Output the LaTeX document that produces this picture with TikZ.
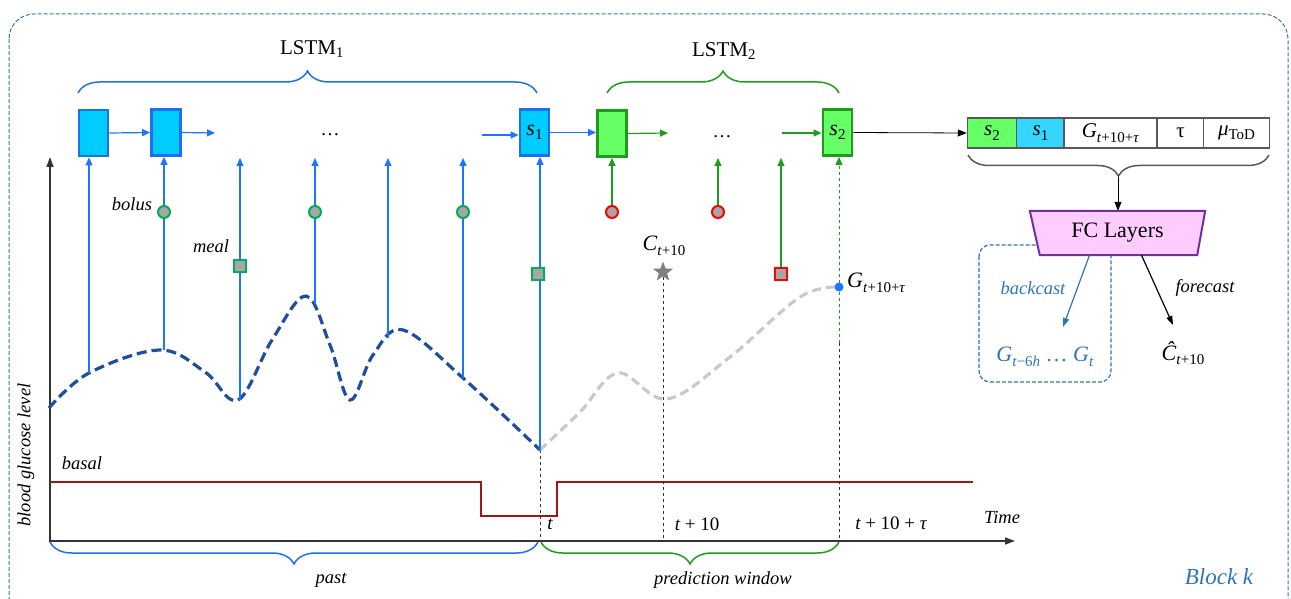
\documentclass[tikz,border=0pt]{standalone}
\usepackage{fontspec}
\setmainfont{Liberation Serif}
\usetikzlibrary{arrows.meta,decorations.pathreplacing,shapes.geometric,calc}
\definecolor{lblue}{HTML}{1A75FF}
\definecolor{cyanf}{HTML}{00CCFF}
\definecolor{bborder}{HTML}{1F6FEF}
\definecolor{gline}{HTML}{1C9E1C}
\definecolor{gfill}{HTML}{66FF66}
\definecolor{mgreen}{HTML}{00B050}
\definecolor{basalc}{HTML}{A31515}
\definecolor{curveb}{HTML}{1F4E9F}
\definecolor{curveg}{HTML}{C9C9C9}
\definecolor{darkblue}{HTML}{2E75B6}
\definecolor{fcpink}{HTML}{FFCCFF}
\definecolor{fcpurple}{HTML}{7030A0}
\definecolor{axisc}{HTML}{333333}
\definecolor{vgray}{HTML}{595959}
\definecolor{markg}{HTML}{A6A6A6}
\newcommand{\vi}[1]{\textit{#1}}
\newcommand{\vsub}[1]{\raisebox{-0.45ex}{\fontsize{15}{15}\selectfont #1}}
\tikzset{
  txt/.style={font=\fontsize{19}{22}\selectfont, inner sep=1pt},
  ltxt/.style={font=\fontsize{21}{24}\selectfont, inner sep=1pt},
  itxt/.style={font=\fontsize{18.5}{22}\selectfont\itshape, inner sep=1pt},
  bbox/.style={draw=bborder, fill=cyanf, line width=2.8pt, minimum width=29pt, minimum height=46pt, inner sep=0pt, font=\fontsize{22}{22}\selectfont},
  gbox/.style={draw=gline, fill=gfill, line width=2.8pt, minimum width=29pt, minimum height=46pt, inner sep=0pt, font=\fontsize{22}{22}\selectfont},
  tip/.style={-{Triangle[length=8pt,width=7pt]}},
  bin/.style={tip, lblue, line width=1.2pt},
  gin/.style={tip, gline, line width=1.2pt},
  bolusm/.style={circle, draw=mgreen, fill=markg, line width=2pt, minimum size=12pt, inner sep=0pt},
  mealm/.style={rectangle, draw=mgreen, fill=markg, line width=2pt, minimum size=12pt, inner sep=0pt},
  redc/.style={circle, draw=red, fill=markg, line width=2pt, minimum size=12pt, inner sep=0pt},
  reds/.style={rectangle, draw=red, fill=markg, line width=2pt, minimum size=12pt, inner sep=0pt},
  vcell/.style={draw=vgray, line width=1.5pt, minimum height=30pt, inner sep=0pt, font=\fontsize{21}{22}\selectfont},
  thindash/.style={dash pattern=on 3pt off 3pt, line width=1pt},
  brc/.style={decorate, decoration={brace, amplitude=22pt, aspect=0.5}, line width=1.5pt},
  mlbl/.style={font=\fontsize{22}{24}\selectfont, inner sep=1pt},
}
\begin{document}
\begin{tikzpicture}[x=1pt,y=-1pt]
\useasboundingbox (0,0) rectangle (1291,599);
% outer block
\draw[darkblue, line width=1pt, dash pattern=on 4pt off 2pt, rounded corners=25pt] (9,14) rectangle (1288,625);
\node[font=\fontsize{23}{26}\selectfont\itshape, text=darkblue] (blk) at (1219,577) {Block k};

% braces LSTM
\draw[brc, bborder] (78,93) -- (537,93);
\draw[brc, gline] (607,93) -- (839,93);
\node[ltxt] (l1) at (312,49) {LSTM\textsubscript{1}};
\node[ltxt] (l2) at (724,51) {LSTM\textsubscript{2}};

% LSTM boxes
\node[bbox] (b1) at (93.5,133) {};
\node[bbox] (b2) at (166,132.5) {};
\node[bbox] (s1) at (534.5,132.5) {\vi{s}\vsub{1}};
\node[gbox] (g1) at (612,133.5) {};
\node[gbox] (s2) at (837.5,132.5) {\vi{s}\vsub{2}};
\node[txt] (d1) at (330,135) {\ldots};
\node[txt] (d2) at (722,137) {\ldots};
\coordinate (b2o) at (215,133);
\coordinate (s1i) at (482,135);
\coordinate (g1o) at (668,133);
\coordinate (s2i) at (782,133);
\draw[bin] (b1.east) -- (b2.west);
\draw[bin] (b2.east) -- (b2o);
\draw[bin] (s1i) -- (s1i -| s1.west);
\draw[bin] (s1.east) -- (s1.east -| g1.west);
\draw[gin] (g1.east) -- (g1o);
\draw[gin] (s2i) -- (s2i -| s2.west);

% axes
\draw[-{Triangle[length=10pt,width=7pt]}, axisc, line width=1.5pt] (50,542) -- (50,157);
\draw[-{Triangle[length=10pt,width=7pt]}, axisc, line width=1.5pt] (49,541) -- (1015,541);
\node[itxt, rotate=90] (ylab) at (26,455) {blood glucose level};
\node[itxt] (time) at (1002,517) {Time};

% basal
\draw[basalc, line width=1.5pt] (50,482) -- (481,482) -- (481,516) -- (557,516) -- (557,482) -- (973,482);
\node[itxt] (basal) at (82,463) {basal};

% curve coordinates
\coordinate (c1) at (89,373);
\coordinate (c2) at (164,350);
\coordinate (c3) at (240,400);
\coordinate (c4) at (315,304);
\coordinate (c5) at (388,338);
\coordinate (c6) at (463,378);
\coordinate (c7) at (540,450);
\coordinate (gend) at (839,287);

% vertical dashed lines
\coordinate (tx) at (540,541);
\coordinate (t10x) at (663,541);
\coordinate (tautx) at (839,541);
\coordinate (gmid) at (839,343);
\draw[thindash, axisc] (c7) -- (tx);
\draw[thindash, axisc] (gmid) -- (tautx);

% glucose curves
\draw[curveg, line width=3.2pt, dash pattern=on 9pt off 5pt] plot[smooth, tension=0.6] coordinates {(540,450) (580,412) (618,373) (667,399) (730,357) (800,297) (839,287)};
\draw[curveb, line width=3.2pt, dash pattern=on 10pt off 5pt] plot[smooth, tension=0.6] coordinates {(49,408) (89,373) (160,350) (205,372) (238,400) (272,340) (306,296) (330,345) (350,400) (373,355) (403,330) (463,378) (540,450)};

% input arrows (LSTM1)
\coordinate (a3) at (240,158);
\coordinate (a4) at (315,158);
\coordinate (a5) at (388,158);
\coordinate (a6) at (463,158);
\draw[bin] (c1) -- (c1 |- b1.south);
\draw[bin] (c2) -- (c2 |- b2.south);
\draw[bin] (c3) -- (a3);
\draw[bin] (c4) -- (a4);
\draw[bin] (c5) -- (a5);
\draw[bin] (c6) -- (a6);
\draw[bin] (c7) -- (c7 |- s1.south);

\node[bolusm] (bo1) at (164,212) {};
\node[bolusm] (bo2) at (315,212) {};
\node[bolusm] (bo3) at (463,212) {};
\node[mealm] (me1) at (240,266) {};
\node[mealm] (me2) at (538,274) {};
\node[itxt] (bolus) at (132,204) {bolus};
\node[itxt] (meal) at (211,246) {meal};

% input arrows (LSTM2)
\node[redc] (rc1) at (612,212) {};
\node[redc] (rc2) at (718,212) {};
\node[reds] (rs) at (781,274) {};
\coordinate (ga2) at (718,158);
\coordinate (ga3) at (781,158);
\draw[gin] (rc1) -- (rc1 |- g1.south);
\draw[gin] (rc2) -- (ga2);
\draw[gin] (rs) -- (ga3);
\draw[gin, thindash] (gmid) -- (gmid |- s2.south);

% star and C label
\node[star, star points=5, star point ratio=2.4, fill=gray, minimum size=21pt, inner sep=0pt] (st) at (663,272) {};
\draw[thindash, axisc] (st.south) -- (t10x);
\node[mlbl] (clab) at (664,246) {\vi{C}\vsub{\vi{t}+10}};

% G point
\node[circle, fill=lblue, minimum size=9pt, inner sep=0pt] (gp) at (gend) {};
\node[mlbl, anchor=west] (glab) at (846,283) {\vi{G}\vsub{\vi{t}+10+\vi{τ}}};

% time labels
\node[txt] (tl) at (550,524) {\itshape t};
\node[txt] (t10l) at (697,524) {{\itshape t} + 10};
\node[txt] (ttl) at (891,523) {{\itshape t} + 10 + {\itshape τ}};

% bottom braces
\draw[brc, bborder] (538,542) -- (50,542);
\draw[brc, gline] (839,542) -- (541,542);
\node[itxt] (past) at (331,580) {past};
\node[itxt] (pw) at (723,580) {prediction window};

% feature vector
\node[vcell, fill=gfill, minimum width=49pt] (v1) at (992,133) {\vi{s}\vsub{2}};
\node[vcell, fill=cyanf!80!white, minimum width=48pt] (v2) at (1040.5,133) {\vi{s}\vsub{1}};
\node[vcell, fill=white, minimum width=93pt] (v3) at (1110.5,133) {\vi{G}\vsub{\vi{t}+10+\vi{τ}}};
\node[vcell, fill=white, minimum width=47pt] (v4) at (1180.5,133) {τ};
\node[vcell, fill=white, minimum width=66pt] (v5) at (1236.5,133) {\vi{μ}\vsub{ToD}};
\draw[-{Triangle[length=9pt,width=7pt]}, black, line width=0.8pt] (s2.east) -- (v1.west);
\draw[brc, vgray, decoration={brace, amplitude=21pt, aspect=0.5}] (1269,155) -- (968,155);
\coordinate (fvb) at (1118,177);

% dashed backcast box
\draw[darkblue, line width=1.2pt, dash pattern=on 4pt off 2pt, rounded corners=11pt] (979,245) rectangle (1111,382);

% FC layers
\node[minimum width=175pt, minimum height=44pt, inner sep=0pt] (fc) at (1117.5,233) {};
\draw[fcpurple, fill=fcpink, line width=2pt] (fc.north west) -- (fc.north east) -- ($(fc.south east)+(-8,0)$) -- ($(fc.south west)+(10,0)$) -- cycle;
\node[font=\fontsize{22}{24}\selectfont] (fct) at (fc) {FC Layers};
\draw[-{Triangle[length=9pt,width=7pt]}, black, line width=1pt] (fvb) -- (fc.north -| fvb);

\node[mlbl, text=darkblue] (bc) at (1045,357) {\vi{G}\vsub{\vi{t}−6\vi{h}} … \vi{G}\vsub{\vi{t}}};
\node[mlbl] (ch) at (1183,353) {\vi{Ĉ}\vsub{\vi{t}+10}};
\coordinate (bkfrom) at ($(fc.south)+(-28,0)$);
\coordinate (fcfrom) at ($(fc.south)+(24,0)$);
\coordinate (bkto) at (1063,327);
\coordinate (fcto) at (1173,325);
\draw[-{Triangle[length=9pt,width=6pt]}, darkblue, line width=1.2pt] (bkfrom) -- (bkto);
\draw[-{Triangle[length=9pt,width=6pt]}, black, line width=1.2pt] (fcfrom) -- (fcto);
\node[itxt, text=darkblue] (bcl) at (1033,288) {backcast};
\node[itxt] (fcl) at (1205,288) {forecast};
\end{tikzpicture}
\end{document}
